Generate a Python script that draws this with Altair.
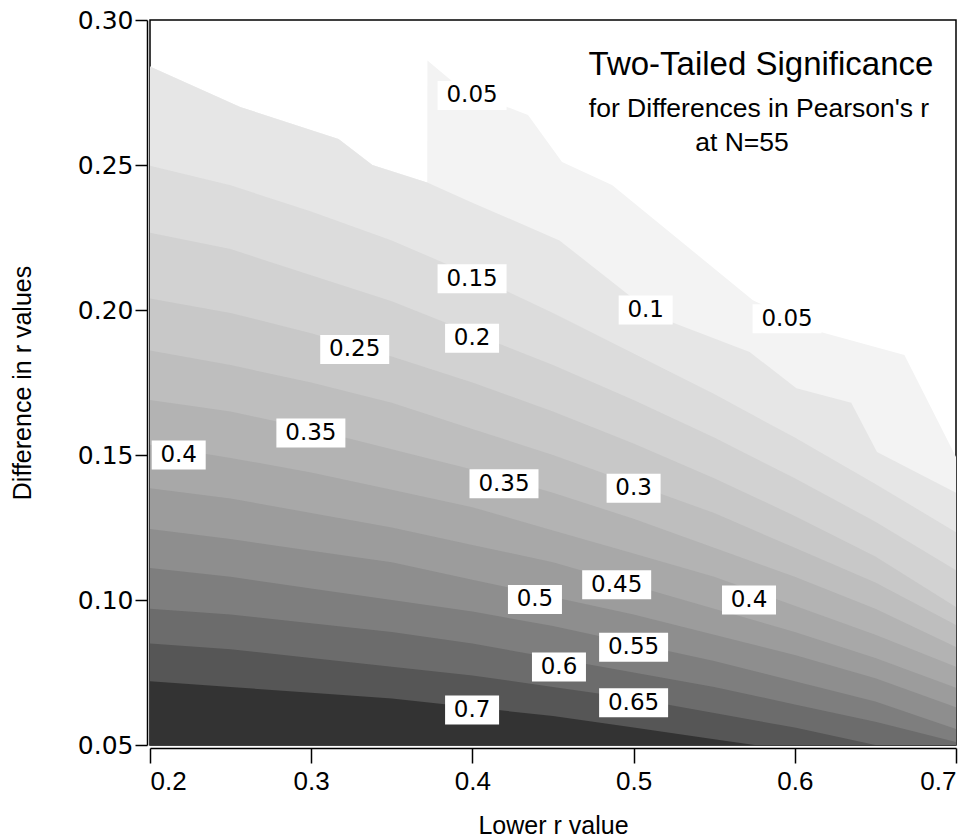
import altair as alt
import pandas as pd

# ---- contour boundaries (x = lower r, y = difference) ----
XS = [0.20, 0.25, 0.30, 0.35, 0.40, 0.45, 0.50, 0.55, 0.60, 0.65, 0.70]

C15 = [0.2497, 0.243, 0.234, 0.224, 0.212, 0.199, 0.185, 0.171, 0.156, 0.140, 0.1234]
C20 = [0.2266, 0.221, 0.212, 0.203, 0.192, 0.181, 0.169, 0.156, 0.142, 0.127, 0.1103]
C25 = [0.204, 0.199, 0.192, 0.184, 0.175, 0.165, 0.154, 0.142, 0.129, 0.115, 0.0976]
C30 = [0.186, 0.181, 0.175, 0.168, 0.159, 0.150, 0.140, 0.130, 0.118, 0.106, 0.0914]
C35 = [0.169, 0.165, 0.159, 0.152, 0.145, 0.137, 0.128, 0.118, 0.108, 0.097, 0.0838]
C40 = [0.1535, 0.149, 0.144, 0.138, 0.132, 0.124, 0.116, 0.108, 0.098, 0.088, 0.077]
C45 = [0.1385, 0.135, 0.130, 0.125, 0.119, 0.113, 0.105, 0.097, 0.089, 0.080, 0.0697]
C50 = [0.1245, 0.121, 0.117, 0.113, 0.107, 0.101, 0.095, 0.088, 0.081, 0.073, 0.063]
C55 = [0.111, 0.108, 0.104, 0.100, 0.096, 0.091, 0.085, 0.079, 0.072, 0.065, 0.0555]
C60 = [0.097, 0.095, 0.092, 0.089, 0.085, 0.080, 0.075, 0.070, 0.064, 0.058, 0.051]
C65 = [0.085, 0.083, 0.080, 0.077, 0.074, 0.070, 0.066, 0.061, 0.056, 0.050, 0.044]
C70 = [0.072, 0.070, 0.068, 0.066, 0.063, 0.060, 0.056, 0.052, 0.048, 0.043, 0.038]

C10_X = [0.20, 0.256, 0.317, 0.338, 0.372, 0.40, 0.454, 0.51, 0.525, 0.572, 0.601, 0.635, 0.651, 0.70]
C10_Y = [0.284, 0.270, 0.259, 0.250, 0.244, 0.237, 0.224, 0.1995, 0.1955, 0.1855, 0.173, 0.168, 0.151, 0.137]

TOP_X = [0.20, 0.256, 0.317, 0.338, 0.372, 0.3721, 0.388, 0.4215, 0.4345, 0.4556, 0.4866, 0.574, 0.616, 0.668, 0.70]
TOP_Y = [0.284, 0.270, 0.259, 0.250, 0.244, 0.286, 0.2786, 0.270, 0.2672, 0.251, 0.2431, 0.2034, 0.1924, 0.1845, 0.1493]

BAND_GRAYS = ["#F3F3F3", "#E6E6E6", "#DCDCDC", "#D2D2D2", "#C8C8C8", "#BEBEBE", "#B3B3B3",
              "#A8A8A8", "#9C9C9C", "#8E8E8E", "#7E7E7E", "#6C6C6C", "#565656", "#333333"]

LABEL_TEXT = ["0.05", "0.15", "0.1", "0.05", "0.2", "0.25", "0.35", "0.4", "0.35", "0.3",
              "0.45", "0.5", "0.4", "0.55", "0.6", "0.65", "0.7"]
LABEL_X = [0.3998, 0.3998, 0.5075, 0.5952, 0.3998, 0.3270, 0.2998, 0.2178, 0.4196, 0.5000,
           0.4895, 0.4388, 0.5716, 0.5000, 0.4537, 0.5000, 0.3998]
LABEL_Y = [0.2740, 0.2108, 0.2000, 0.1970, 0.1903, 0.1864, 0.1576, 0.1500, 0.1401, 0.1385,
           0.1053, 0.1002, 0.1000, 0.0837, 0.0769, 0.0646, 0.0621]

TITLE_LINES = ["Two-Tailed Significance", "for Differences in Pearson's r", "at N=55"]
X_TICKS = [0.2, 0.3, 0.4, 0.5, 0.6, 0.7]
Y_TICKS = [0.05, 0.10, 0.15, 0.20, 0.25, 0.30]

W, H = 806, 725
SANS = "Liberation Sans"

xscale = alt.Scale(domain=[0.2, 0.7], nice=False, zero=False)
yscale = alt.Scale(domain=[0.05, 0.30], nice=False, zero=False)

x_axis = alt.Axis(values=X_TICKS, format=".1f", title="Lower r value", grid=False,
                  labelFont=SANS, labelFontSize=26, labelPadding=5, tickSize=15,
                  titleFont=SANS, titleFontSize=25, titleFontWeight="normal",
                  titleX=W / 2, titleY=77, titleBaseline="middle", titleAlign="center")
y_axis = alt.Axis(values=Y_TICKS, format=".2f", title="Difference in r values", grid=False,
                  labelFont="DejaVu Sans", labelFontSize=25, labelPadding=2, tickSize=12,
                  titleFont=SANS, titleFontSize=25, titleFontWeight="normal",
                  titleX=-125, titleY=H / 2, titleBaseline="middle", titleAlign="center",
                  titleAngle=-90)

XENC = dict(scale=xscale, axis=x_axis)
YENC = dict(scale=yscale, axis=y_axis)


def band(xs, ys, color):
    df = pd.DataFrame({"x": xs, "y": ys})
    return alt.Chart(df).mark_area(color=color, clip=True, interpolate="linear",
                                   opacity=1).encode(
        x=alt.X("x:Q", **XENC),
        y=alt.Y("y:Q", **YENC),
        y2=alt.value(H),
    )


contours = [(C10_X, C10_Y)] + [(XS, c) for c in
                                [C15, C20, C25, C30, C35, C40, C45, C50, C55, C60, C65, C70]]
layers = [band(TOP_X, TOP_Y, BAND_GRAYS[0])]
for (cx, cy), col in zip(contours, BAND_GRAYS[1:]):
    layers.append(band(cx, cy, col))

lab = pd.DataFrame({"x": LABEL_X, "y": LABEL_Y, "t": LABEL_TEXT})
lab["n"] = lab["t"].str.len()
pos = dict(x=alt.X("x:Q", **XENC), y=alt.Y("y:Q", **YENC))
box4 = alt.Chart(lab[lab["n"] == 4]).mark_rect(color="white", width=69, height=29).encode(**pos)
box3 = alt.Chart(lab[lab["n"] == 3]).mark_rect(color="white", width=54, height=29).encode(**pos)
txt = alt.Chart(lab).mark_text(font="DejaVu Sans", fontSize=23, color="black",
                               baseline="middle", align="center").encode(text="t:N", **pos)

tdf = pd.DataFrame({"t": TITLE_LINES})
t1 = alt.Chart(tdf.iloc[[0]]).mark_text(font=SANS, fontSize=33, color="black",
                                        align="center", baseline="alphabetic").encode(
    text="t:N", x=alt.value(611), y=alt.value(55))
t2 = alt.Chart(tdf.iloc[[1]]).mark_text(font=SANS, fontSize=26.5, color="black",
                                        align="center", baseline="alphabetic").encode(
    text="t:N", x=alt.value(609), y=alt.value(97))
t3 = alt.Chart(tdf.iloc[[2]]).mark_text(font=SANS, fontSize=26.5, color="black",
                                        align="center", baseline="alphabetic").encode(
    text="t:N", x=alt.value(592), y=alt.value(131))

chart = alt.layer(*layers, box4, box3, txt, t1, t2, t3).properties(
    width=W, height=H,
    autosize=alt.AutoSizeParams(type="none"),
    padding={"left": 150, "top": 20, "right": 22, "bottom": 94},
    background="white",
).configure_view(stroke="black", strokeWidth=1.5).configure_axis(
    domainColor="black", domainWidth=1.5, tickColor="black", tickWidth=1.5,
    labelColor="black", titleColor="black", offset=3,
)

chart.save("out.html", embed_options={"renderer": "svg", "actions": False})
